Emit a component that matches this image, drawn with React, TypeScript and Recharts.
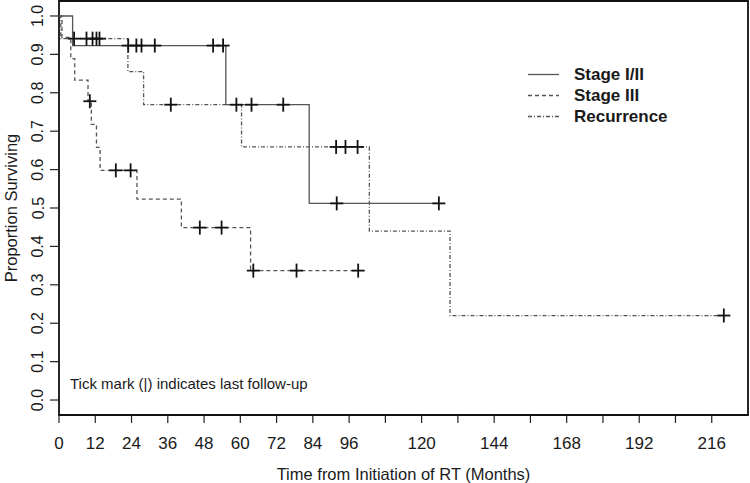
import {
    ComposedChart,
    Label,
    Legend,
    Line,
    ReferenceArea,
    Scatter,
    XAxis,
    YAxis,
} from 'recharts';

// Kaplan-Meier steps (months, proportion surviving)
const stageOneTimes = [0, 4.5, 55.2, 82.8, 125.7];
const stageOneSurv = [1, 0.923, 0.769, 0.512, 0.512];
const stageOneCensorTimes = [22.9, 25.6, 27.3, 31.7, 51.0, 54.3, 63.7, 74.2, 91.9, 125.7];
const stageOneCensorSurv = [0.923, 0.923, 0.923, 0.923, 0.923, 0.923, 0.769, 0.769, 0.512, 0.512];

const stageThreeTimes = [0, 1.0, 3.9, 5.2, 9.6, 10.7, 12.4, 13.6, 25.8, 40.5, 63.4, 99.0];
const stageThreeSurv = [1, 0.944, 0.889, 0.833, 0.778, 0.718, 0.658, 0.598, 0.523, 0.449, 0.337, 0.337];
const stageThreeCensorTimes = [10.2, 18.8, 23.7, 46.6, 53.8, 64.3, 78.6, 99.0];
const stageThreeCensorSurv = [0.778, 0.598, 0.598, 0.449, 0.449, 0.337, 0.337, 0.337];

const recurrenceTimes = [0, 0.6, 22.8, 28.0, 60.4, 102.7, 129.4, 220.0];
const recurrenceSurv = [1, 0.941, 0.855, 0.769, 0.659, 0.44, 0.22, 0.22];
const recurrenceCensorTimes = [5.0, 9.1, 11.1, 12.4, 13.4, 37.0, 58.7, 91.7, 94.8, 98.8, 220.0];
const recurrenceCensorSurv = [0.941, 0.941, 0.941, 0.941, 0.941, 0.769, 0.769, 0.659, 0.659, 0.659, 0.22];

const xTicks = [0, 12, 24, 36, 48, 60, 72, 84, 96, 108, 120, 132, 144, 156, 168, 180, 192, 204, 216];
const xLabelled = [0, 12, 24, 36, 48, 60, 72, 84, 96, 120, 144, 168, 192, 216];
const yTicks = [0, 0.1, 0.2, 0.3, 0.4, 0.5, 0.6, 0.7, 0.8, 0.9, 1.0];

const seriesNames = ['Stage I/II', 'Stage III', 'Recurrence'];

const X_MAX = 228;
const Y_MIN = -0.039;
const Y_MAX = 1.039;

const toPoints = (times: number[], surv: number[]) =>
    times.map((t, i) => ({ t, s: surv[i] }));

const stageOne = toPoints(stageOneTimes, stageOneSurv);
const stageThree = toPoints(stageThreeTimes, stageThreeSurv);
const recurrence = toPoints(recurrenceTimes, recurrenceSurv);
const censors = [
    ...toPoints(stageOneCensorTimes, stageOneCensorSurv),
    ...toPoints(stageThreeCensorTimes, stageThreeCensorSurv),
    ...toPoints(recurrenceCensorTimes, recurrenceCensorSurv),
];

const LINE_COLOR = '#555';
const TEXT_COLOR = '#1a1a1a';
const DASHES = [undefined, '4 3', '4 2 1 2'];

// eslint-disable-next-line @typescript-eslint/no-explicit-any
const PlusMark = ({ cx, cy }: any) => (
    <g stroke="#111" strokeWidth={1.8}>
        <line x1={cx - 6.5} y1={cy} x2={cx + 6.5} y2={cy} />
        <line x1={cx} y1={cy - 7} x2={cx} y2={cy + 7} />
    </g>
);

// eslint-disable-next-line @typescript-eslint/no-explicit-any
const YTick = ({ y, payload }: any) => (
    <text
        x={38}
        y={y}
        transform={`rotate(-90 38 ${y})`}
        textAnchor="middle"
        dominantBaseline="central"
        fontSize={16}
        fill={TEXT_COLOR}
    >
        {payload.value.toFixed(1)}
    </text>
);

const LegendBox = () => (
    <div style={{ fontFamily: 'Liberation Sans, Arial, sans-serif' }}>
        {seriesNames.map((name, i) => (
            <div
                key={name}
                style={{ display: 'flex', alignItems: 'center', height: 21 }}
            >
                <svg width={31} height={21}>
                    <line
                        x1={0}
                        y1={10.5}
                        x2={31}
                        y2={10.5}
                        stroke={LINE_COLOR}
                        strokeWidth={1.3}
                        strokeDasharray={DASHES[i]}
                    />
                </svg>
                <span
                    style={{
                        marginLeft: 15,
                        fontSize: 17,
                        fontWeight: 'bold',
                        color: TEXT_COLOR,
                        lineHeight: '21px',
                    }}
                >
                    {name}
                </span>
            </div>
        ))}
    </div>
);

const App = () => (
    <>
        <style>{'body { margin: 0; }'}</style>
        <ComposedChart
            width={750}
            height={483}
            margin={{ top: 1, right: 2, bottom: 0, left: 0 }}
            style={{ fontFamily: 'Liberation Sans, Arial, sans-serif', background: '#fff' }}
        >
            <XAxis
                dataKey="t"
                type="number"
                domain={[0, X_MAX]}
                ticks={xTicks}
                allowDataOverflow
                height={68}
                tickSize={8}
                tickMargin={14}
                axisLine={false}
                tickLine={{ stroke: '#222', strokeWidth: 1.2 }}
                tick={{ fontSize: 17, fill: TEXT_COLOR }}
                tickFormatter={(v: number) => (xLabelled.includes(v) ? String(v) : '')}
                interval={0}
            >
                <Label
                    value="Time from Initiation of RT (Months)"
                    position="insideBottom"
                    offset={3}
                    fontSize={16.5}
                    fill={TEXT_COLOR}
                />
            </XAxis>
            <YAxis
                dataKey="s"
                type="number"
                domain={[Y_MIN, Y_MAX]}
                ticks={yTicks}
                allowDataOverflow
                width={59}
                tickSize={9}
                axisLine={false}
                tickLine={{ stroke: '#222', strokeWidth: 1.2 }}
                tick={<YTick />}
                interval={0}
            >
                <Label
                    content={() => (
                        <text
                            x={11}
                            y={208}
                            transform="rotate(-90 11 208)"
                            textAnchor="middle"
                            dominantBaseline="central"
                            fontSize={16.5}
                            fill={TEXT_COLOR}
                        >
                            Proportion Surviving
                        </text>
                    )}
                />
            </YAxis>
            <ReferenceArea
                x1={0}
                x2={X_MAX}
                y1={Y_MIN}
                y2={Y_MAX}
                fill="none"
                stroke="#111"
                strokeWidth={1.8}
                ifOverflow="visible"
            >
                <Label
                    content={() => (
                        <text x={70} y={389} fontSize={15} fill={TEXT_COLOR}>
                            Tick mark (|) indicates last follow-up
                        </text>
                    )}
                />
            </ReferenceArea>
            {[stageOne, stageThree, recurrence].map((points, i) => (
                <Line
                    key={seriesNames[i]}
                    name={seriesNames[i]}
                    data={points}
                    dataKey="s"
                    type="stepAfter"
                    stroke={LINE_COLOR}
                    strokeWidth={1.3}
                    strokeDasharray={DASHES[i]}
                    dot={false}
                    activeDot={false}
                    isAnimationActive={false}
                />
            ))}
            <Scatter
                data={censors}
                shape={<PlusMark />}
                isAnimationActive={false}
                legendType="none"
            />
            <Legend
                layout="vertical"
                align="center"
                verticalAlign="middle"
                content={<LegendBox />}
                wrapperStyle={{ left: 528, top: 64, width: 200 }}
            />
        </ComposedChart>
    </>
);

export default App;
